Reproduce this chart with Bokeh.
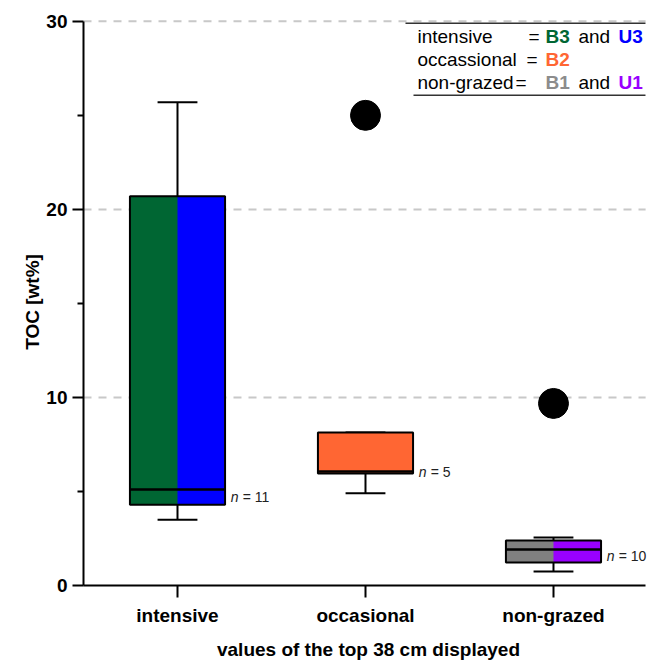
from bokeh.plotting import figure
from bokeh.models import Range1d, FixedTicker, Label
from bokeh.embed import file_html
from bokeh.resources import INLINE

# ---- data ----
categories = ["intensive", "occasional", "non-grazed"]
xpos = [1, 2, 3]
q1 = [4.3, 5.96, 1.22]
median = [5.1, 6.06, 1.91]
q3 = [20.7, 8.14, 2.39]
whisker_low = [3.5, 4.9, 0.74]
whisker_high = [25.7, 8.14, 2.55]
n_values = [11, 5, 10]
outlier_x = [2, 3]
outlier_y = [25.0, 9.68]
left_colors = ["#006633", "#FF6633", "#808080"]
right_colors = ["#0000FF", "#FF6633", "#9900FF"]
y_ticks = [0, 10, 20, 30]
y_minor = [5, 15, 25]
grid_ticks = [10, 20, 30]

FONT = "Liberation Sans"
BOX_HW = 0.253
CAP_HW = 0.106
X_LO, X_HI = 0.5, 3.49

p = figure(width=653, height=662, output_backend="svg", toolbar_location=None,
           x_range=Range1d(X_LO, 3.532), y_range=Range1d(0, 30.15),
           min_border_left=83, min_border_right=0, min_border_top=18, min_border_bottom=77)
p.outline_line_color = None
p.background_fill_color = "white"
p.border_fill_color = "white"

# grid (drawn as dashed horizontal lines limited to the axis extent)
p.xgrid.visible = False
p.ygrid.visible = False
p.segment(x0=[X_LO] * len(grid_ticks), x1=[X_HI] * len(grid_ticks), y0=grid_ticks, y1=grid_ticks,
          line_color="#c8c8c8", line_width=2, line_dash="8 7")

# axes
ya = p.yaxis[0]
ya.ticker = FixedTicker(ticks=y_ticks, minor_ticks=y_minor)
ya.bounds = (0, 30)
ya.axis_line_width = 2
ya.major_tick_line_width = 2
ya.minor_tick_line_width = 2
ya.major_tick_out = 11
ya.major_tick_in = 0
ya.minor_tick_out = 6
ya.minor_tick_in = 0
ya.major_label_text_font = FONT
ya.major_label_text_font_style = "bold"
ya.major_label_text_font_size = "19px"
ya.major_label_standoff = 5
ya.axis_label = "TOC [wt%]"
ya.axis_label_text_font = FONT
ya.axis_label_text_font_style = "bold"
ya.axis_label_text_font_size = "19px"
ya.axis_label_standoff = 0
ya.major_label_text_color = "black"
ya.axis_label_text_color = "black"

xa = p.xaxis[0]
xa.ticker = FixedTicker(ticks=xpos)
xa.bounds = (X_LO, X_HI)
xa.major_label_overrides = {x: c for x, c in zip(xpos, categories)}
xa.axis_line_width = 2
xa.major_tick_line_width = 2
xa.minor_tick_line_color = None
xa.major_tick_out = 12
xa.major_tick_in = 0
xa.major_label_text_font = FONT
xa.major_label_text_font_style = "bold"
xa.major_label_text_font_size = "19px"
xa.major_label_standoff = 7
xa.axis_label = "values of the top 38 cm displayed"
xa.axis_label_text_font = FONT
xa.axis_label_text_font_style = "bold"
xa.axis_label_text_font_size = "19px"
xa.axis_label_standoff = 10
xa.major_label_text_color = "black"
xa.axis_label_text_color = "black"

# whiskers
p.segment(x0=xpos, x1=xpos, y0=whisker_low, y1=q1, line_color="black", line_width=2)
p.segment(x0=xpos, x1=xpos, y0=q3, y1=whisker_high, line_color="black", line_width=2)
p.segment(x0=[x - CAP_HW for x in xpos], x1=[x + CAP_HW for x in xpos],
          y0=whisker_low, y1=whisker_low, line_color="black", line_width=2)
p.segment(x0=[x - CAP_HW for x in xpos], x1=[x + CAP_HW for x in xpos],
          y0=whisker_high, y1=whisker_high, line_color="black", line_width=2)

# boxes (two halves, slightly overlapping to avoid a seam)
p.quad(left=[x - BOX_HW for x in xpos], right=[x + 0.01 for x in xpos], bottom=q1, top=q3,
       fill_color=left_colors, line_color=None)
p.quad(left=xpos, right=[x + BOX_HW for x in xpos], bottom=q1, top=q3,
       fill_color=right_colors, line_color=None)
p.quad(left=[x - BOX_HW for x in xpos], right=[x + BOX_HW for x in xpos], bottom=q1, top=q3,
       fill_color=None, line_color="black", line_width=2)
p.segment(x0=[x - BOX_HW for x in xpos], x1=[x + BOX_HW for x in xpos],
          y0=median, y1=median, line_color="black", line_width=2.5)

# outliers
p.scatter(x=outlier_x, y=outlier_y, size=30, color="black")

# n labels
for x, a, b, n in zip(xpos, q1, median, n_values):
    lx = x + BOX_HW + 0.03
    ly = (a + b) / 2
    p.add_layout(Label(x=lx, y=ly, text="n", text_font=FONT, text_font_style="italic",
                       text_font_size="14px", text_baseline="middle", text_color="#222222"))
    p.add_layout(Label(x=lx, y=ly, x_offset=12, text="= %d" % n, text_font=FONT,
                       text_font_size="14px", text_baseline="middle", text_color="#222222"))

# legend box (annotation)
def dx(px):
    return 0.5 + (px - 83) / 188.0

def dy(py):
    return (585 - py) / 18.8

p.segment(x0=[dx(405), dx(413)], x1=[dx(645), dx(645)], y0=[dy(23), dy(95)], y1=[dy(23), dy(95)],
          line_color="#333333", line_width=1.5)

rows = [
    [("intensive", 417, "black", "normal"), ("=", 528, "black", "normal"),
     ("B3", 545, "#006633", "bold"), ("and", 578, "black", "normal"), ("U3", 618, "#0000FF", "bold")],
    [("occassional", 417, "black", "normal"), ("=", 526, "black", "normal"),
     ("B2", 545, "#FF6633", "bold")],
    [("non-grazed", 417, "black", "normal"), ("=", 515, "black", "normal"),
     ("B1", 545, "#8c8c8c", "bold"), ("and", 578, "black", "normal"), ("U1", 618, "#9900FF", "bold")],
]
baselines = [36, 59, 82]
for row, by in zip(rows, baselines):
    for txt, px, col, style in row:
        p.add_layout(Label(x=dx(px), y=dy(by), text=txt, text_font=FONT, text_font_size="19px",
                           text_color=col, text_font_style=style, text_baseline="alphabetic"))

open("out.html", "w").write(file_html(p, INLINE))
